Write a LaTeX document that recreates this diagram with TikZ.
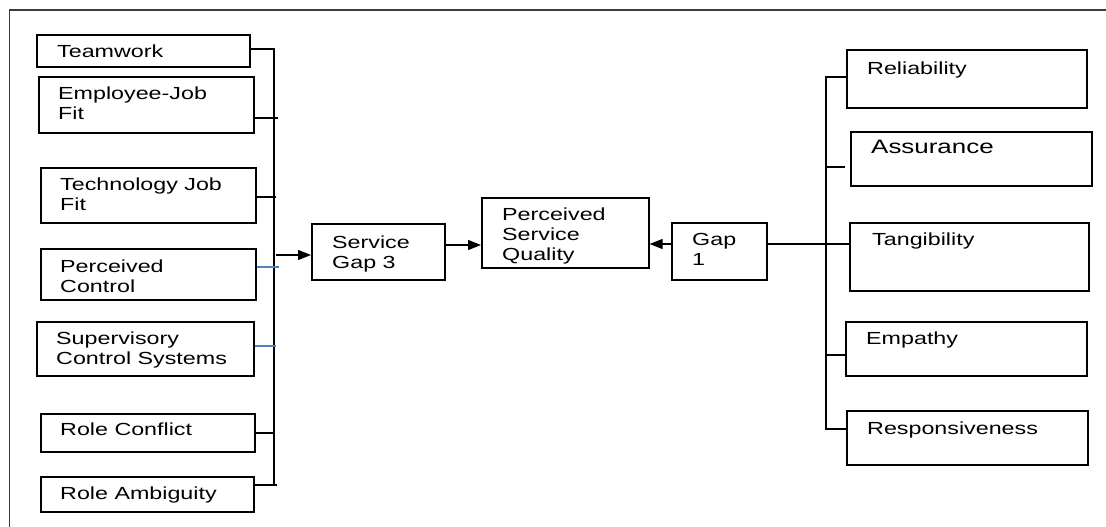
\documentclass[tikz,border=0pt]{standalone}
\usepackage{fontspec}
\setmainfont{Liberation Sans}[FakeStretch=1.33]
\usetikzlibrary{arrows.meta,calc}

\definecolor{linkblue}{RGB}{79,129,189}
\definecolor{framegray}{RGB}{60,60,60}

\tikzset{
  boxshape/.style={draw=black, line width=1.6pt, rectangle, inner sep=0pt,
                   anchor=north west},
  boxtext/.style={anchor=north west, inner sep=0pt, align=left,
                  font=\fontsize{17.5}{20}\selectfont},
  link/.style={draw=black, line width=1.4pt},
  bluelink/.style={draw=linkblue, line width=1.4pt},
  arrowlink/.style={link, -{Triangle[length=13pt,width=10pt]}},
}

\begin{document}
\begin{tikzpicture}[x=1pt,y=-1pt]
\useasboundingbox (0,0) rectangle (1106,527);

% outer frame (top and left edges)
\draw[framegray, line width=1.5pt] (9.5,527) -- (9.5,10) -- (1106,10);

% ---------- antecedents on the left ----------
\node[boxshape, minimum width=213, minimum height=32] (team) at (36,34) {};
\node[boxtext] (team-t) at ($(team.north west)+(21,11)$) {Teamwork};

\node[boxshape, minimum width=215, minimum height=56] (ejf) at (38,76) {};
\node[boxtext] (ejf-t) at ($(ejf.north west)+(20,11)$) {Employee-Job\\Fit};

\node[boxshape, minimum width=215, minimum height=55] (tjf) at (40,167) {};
\node[boxtext] (tjf-t) at ($(tjf.north west)+(20,11)$) {Technology Job\\Fit};

\node[boxshape, minimum width=215, minimum height=51] (pc) at (40,248) {};
\node[boxtext] (pc-t) at ($(pc.north west)+(20,12)$) {Perceived\\Control};

\node[boxshape, minimum width=217, minimum height=54] (scs) at (36,321) {};
\node[boxtext] (scs-t) at ($(scs.north west)+(20,11)$) {Supervisory\\Control Systems};

\node[boxshape, minimum width=214, minimum height=38] (rc) at (40,413) {};
\node[boxtext] (rc-t) at ($(rc.north west)+(20,10)$) {Role Conflict};

\node[boxshape, minimum width=213, minimum height=35] (ra) at (40,476) {};
\node[boxtext] (ra-t) at ($(ra.north west)+(20,11)$) {Role Ambiguity};

% ---------- central chain ----------
\node[boxshape, minimum width=133, minimum height=56] (sg) at (311,223) {};
\node[boxtext] (sg-t) at ($(sg.north west)+(21,13)$) {Service\\Gap 3};

\node[boxshape, minimum width=167, minimum height=70] (psq) at (481,197) {};
\node[boxtext] (psq-t) at ($(psq.north west)+(21,11)$) {Perceived\\Service\\Quality};

\node[boxshape, minimum width=95, minimum height=57] (gap) at (671,222) {};
\node[boxtext] (gap-t) at ($(gap.north west)+(21,11)$) {Gap\\1};

% ---------- service quality dimensions on the right ----------
\node[boxshape, minimum width=240, minimum height=58] (rel) at (846,49) {};
\node[boxtext] (rel-t) at ($(rel.north west)+(21,13)$) {Reliability};

\node[boxshape, minimum width=241, minimum height=54] (ass) at (850,131) {};
\node[boxtext, font=\fontsize{19.5}{22}\selectfont] (ass-t)
  at ($(ass.north west)+(21,9)$) {Assurance};

\node[boxshape, minimum width=239, minimum height=68] (tan) at (849,222) {};
\node[boxtext] (tan-t) at ($(tan.north west)+(23,11)$) {Tangibility};

\node[boxshape, minimum width=241, minimum height=54] (emp) at (845,321) {};
\node[boxtext] (emp-t) at ($(emp.north west)+(21,11)$) {Empathy};

\node[boxshape, minimum width=241, minimum height=54] (resp) at (846,410) {};
\node[boxtext] (resp-t) at ($(resp.north west)+(21,12)$) {Responsiveness};

% ---------- left collector bus ----------
\coordinate (lbTop) at (274,49);
\coordinate (lbBot) at (274,485);
\coordinate (ejfJ)  at (278,118);
\coordinate (tjfJ)  at (276,197);
\coordinate (pcJ)   at (279,267);
\coordinate (scsJ)  at (276,346);
\coordinate (rcJ)   at (274,433);
\coordinate (raJ)   at (277,485);
\coordinate (busOut) at (276,255);

\draw[link] (team.east |- lbTop) -- (lbTop) -- (lbBot);
\draw[link] (ejf.east |- ejfJ) -- (ejfJ);
\draw[link] (tjf.east |- tjfJ) -- (tjfJ);
\draw[bluelink] (pc.east |- pcJ) -- (pcJ);
\draw[bluelink] (scs.east |- scsJ) -- (scsJ);
\draw[link] (rc.east |- rcJ) -- (rcJ);
\draw[link] (ra.east |- raJ) -- (raJ);

\draw[arrowlink] (busOut) -- (sg.west |- busOut);

% ---------- central arrows ----------
\coordinate (midL) at (460,245);
\coordinate (midR) at (660,244);
\draw[arrowlink] (sg.east |- midL) -- (psq.west |- midL);
\draw[arrowlink] (gap.west |- midR) -- (psq.east |- midR);
\draw[link] (gap.east |- midR) -- (tan.west |- midR);

% ---------- right distribution bus ----------
\coordinate (rbTop) at (826,77);
\coordinate (rbBot) at (826,429);
\coordinate (assJ)  at (826,167);
\coordinate (assEnd) at (845,167);
\coordinate (empJ)  at (826,355);

\draw[link] (rel.west |- rbTop) -- (rbTop) -- (rbBot) -- (resp.west |- rbBot);
\draw[link] (assJ) -- (assEnd);
\draw[link] (empJ) -- (emp.west |- empJ);

\end{tikzpicture}
\end{document}
